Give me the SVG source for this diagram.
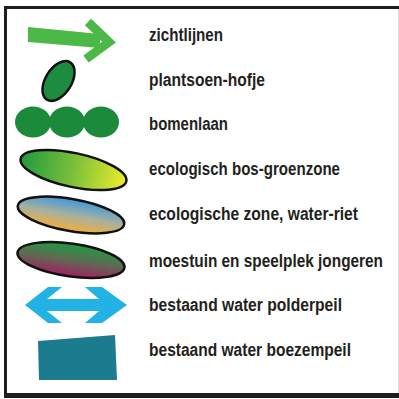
<svg xmlns="http://www.w3.org/2000/svg" width="399" height="399" viewBox="0 0 399 399">
<style>
.lbl{font-family:"Liberation Sans","Arial",sans-serif;font-weight:bold;font-size:17.5px;fill:#231f20}
.frame{stroke:#1e1e1e;fill:none}
.ol{stroke:#111;stroke-width:2.5}
</style>
<defs>
<linearGradient id="gEco" x1="0" y1="0" x2="1" y2="0">
<stop offset="0" stop-color="#1f9a3e"/>
<stop offset="0.5" stop-color="#7bc03a"/>
<stop offset="1" stop-color="#eeec2c"/>
</linearGradient>
<linearGradient id="gWater" x1="0" y1="0" x2="0" y2="1">
<stop offset="0" stop-color="#3f98db"/>
<stop offset="0.5" stop-color="#a7b0a0"/>
<stop offset="1" stop-color="#f2ae3c"/>
</linearGradient>
<linearGradient id="gMoes" x1="0" y1="0" x2="0" y2="1">
<stop offset="0" stop-color="#1f9a42"/>
<stop offset="0.5" stop-color="#5e6a52"/>
<stop offset="1" stop-color="#a21f62"/>
</linearGradient>
</defs>
<rect width="399" height="399" fill="#fff"/>
<g id="frame">
<line class="frame" x1="4" y1="7.5" x2="399" y2="7.5" stroke-width="3"/>
<line class="frame" x1="5.5" y1="6" x2="5.5" y2="398" stroke-width="3"/>
<line class="frame" x1="4" y1="395.5" x2="399" y2="395.5" stroke-width="5"/>
<line x1="398.5" y1="9" x2="398.5" y2="393" stroke="#ddd" stroke-width="1"/>
</g>
<g id="zichtlijnen">
<polygon points="28,27 100,34 100,48 28,42" fill="#4cb848"/>
<polyline points="88,22 109,42 86,59" fill="none" stroke="#4cb848" stroke-width="9" stroke-linejoin="miter"/>
<text class="lbl" x="149" y="41" textLength="74" lengthAdjust="spacingAndGlyphs">zichtlijnen</text>
</g>
<g id="plantsoen">
<ellipse cx="58.5" cy="81" rx="22" ry="13" transform="rotate(-58 58.5 81)" fill="#1e8c3e" class="ol"/>
<text class="lbl" x="149" y="86" textLength="116" lengthAdjust="spacingAndGlyphs">plantsoen-hofje</text>
</g>
<g id="bomenlaan">
<ellipse cx="33" cy="122" rx="18" ry="15.5" fill="#1b8a3a"/>
<ellipse cx="67" cy="122" rx="18" ry="15.5" fill="#1b8a3a"/>
<ellipse cx="101" cy="122" rx="18" ry="15.5" fill="#1b8a3a"/>
<text class="lbl" x="149" y="130" textLength="79" lengthAdjust="spacingAndGlyphs">bomenlaan</text>
</g>
<g id="eco-bos">
<ellipse cx="73.5" cy="170" rx="54" ry="17" transform="rotate(12 73.5 170)" fill="url(#gEco)" class="ol"/>
<text class="lbl" x="149" y="175" textLength="191" lengthAdjust="spacingAndGlyphs">ecologisch bos-groenzone</text>
</g>
<g id="eco-water">
<ellipse cx="71" cy="215" rx="54" ry="16" transform="rotate(10 71 215)" fill="url(#gWater)" class="ol"/>
<text class="lbl" x="149" y="220" textLength="209" lengthAdjust="spacingAndGlyphs">ecologische zone, water-riet</text>
</g>
<g id="moestuin">
<ellipse cx="71" cy="260" rx="54" ry="16.5" transform="rotate(8 71 260)" fill="url(#gMoes)" class="ol"/>
<text class="lbl" x="149" y="267" textLength="234" lengthAdjust="spacingAndGlyphs">moestuin en speelplek jongeren</text>
</g>
<g id="polderpeil">
<polygon points="25,305 48,287 62,287 47,299 99,299 85,287 102,287 127,305 102,323 85,323 99,311 47,311 62,323 48,323" fill="#22b2e3"/>
<text class="lbl" x="149" y="311" textLength="193" lengthAdjust="spacingAndGlyphs">bestaand water polderpeil</text>
</g>
<g id="boezempeil">
<polygon points="38,341 115,335 117,380 39,380" fill="#1b7b8f"/>
<text class="lbl" x="149" y="356" textLength="202" lengthAdjust="spacingAndGlyphs">bestaand water boezempeil</text>
</g>
</svg>
